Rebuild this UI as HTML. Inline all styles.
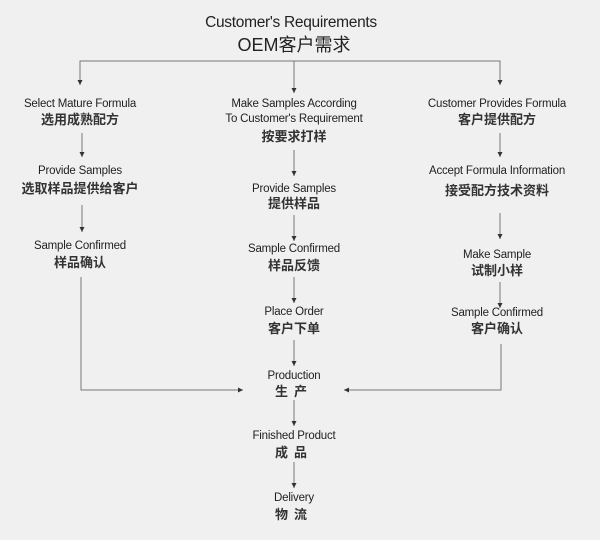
<!DOCTYPE html>
<html><head><meta charset="utf-8"><style>
html,body{margin:0;padding:0;background:#f0f0f0}
svg{display:block}
text{font-family:"Liberation Sans","Noto Sans CJK SC",sans-serif;fill:#222;text-anchor:middle}
.e{font-size:11.5px;letter-spacing:-0.2px}
.c{font-size:13px;font-weight:bold;fill:#333}
line,polyline{stroke:#777;stroke-width:1;fill:none}
</style></head><body>
<svg width="600" height="540" viewBox="0 0 600 540">
<defs><marker id="a" markerWidth="6" markerHeight="6" refX="5" refY="3" orient="auto" markerUnits="userSpaceOnUse"><path d="M0,0.5 L5,3 L0,5.5z" fill="#333"/></marker></defs>
<text x="291" y="27" style="font-size:15.5px;letter-spacing:-0.3px">Customer's Requirements</text>
<text x="294" y="51" style="font-size:18px">OEM客户需求</text>
<polyline points="80,85 80,61 500,61 500,85" marker-end="url(#a)"/>
<line x1="80" y1="61" x2="80" y2="85" marker-end="url(#a)"/>
<line x1="294" y1="61" x2="294" y2="93" marker-end="url(#a)"/>

<text class="e" x="80" y="107">Select Mature Formula</text>
<text class="c" x="80" y="124">选用成熟配方</text>
<line x1="82" y1="133" x2="82" y2="157" marker-end="url(#a)"/>
<text class="e" x="80" y="174">Provide Samples</text>
<text class="c" x="80" y="193">选取样品提供给客户</text>
<line x1="82" y1="205" x2="82" y2="232" marker-end="url(#a)"/>
<text class="e" x="80" y="249">Sample Confirmed</text>
<text class="c" x="80" y="267">样品确认</text>
<polyline points="81,277 81,390 243,390" marker-end="url(#a)"/>

<text class="e" x="294" y="107">Make Samples According</text>
<text class="e" x="294" y="122">To Customer's Requirement</text>
<text class="c" x="294" y="141">按要求打样</text>
<line x1="294" y1="150" x2="294" y2="176" marker-end="url(#a)"/>
<text class="e" x="294" y="192">Provide Samples</text>
<text class="c" x="294" y="208">提供样品</text>
<line x1="294" y1="215" x2="294" y2="241" marker-end="url(#a)"/>
<text class="e" x="294" y="252">Sample Confirmed</text>
<text class="c" x="294" y="270">样品反馈</text>
<line x1="294" y1="277" x2="294" y2="303" marker-end="url(#a)"/>
<text class="e" x="294" y="315">Place Order</text>
<text class="c" x="294" y="333">客户下单</text>
<line x1="294" y1="340" x2="294" y2="366" marker-end="url(#a)"/>
<text class="e" x="294" y="379">Production</text>
<text class="c" x="294" y="396" style="letter-spacing:6px">生产</text>
<line x1="294" y1="400" x2="294" y2="426" marker-end="url(#a)"/>
<text class="e" x="294" y="439">Finished Product</text>
<text class="c" x="294" y="457" style="letter-spacing:6px">成品</text>
<line x1="294" y1="462" x2="294" y2="488" marker-end="url(#a)"/>
<text class="e" x="294" y="501">Delivery</text>
<text class="c" x="294" y="519" style="letter-spacing:6px">物流</text>

<text class="e" x="497" y="107">Customer Provides Formula</text>
<text class="c" x="497" y="124">客户提供配方</text>
<line x1="500" y1="133" x2="500" y2="157" marker-end="url(#a)"/>
<text class="e" x="497" y="174">Accept Formula Information</text>
<text class="c" x="497" y="195">接受配方技术资料</text>
<line x1="500" y1="213" x2="500" y2="239" marker-end="url(#a)"/>
<text class="e" x="497" y="258">Make Sample</text>
<text class="c" x="497" y="275">试制小样</text>
<line x1="500" y1="282" x2="500" y2="308" marker-end="url(#a)"/>
<text class="e" x="497" y="316">Sample Confirmed</text>
<text class="c" x="497" y="333">客户确认</text>
<polyline points="501,344 501,390 344,390" marker-end="url(#a)"/>
</svg>
</body></html>
